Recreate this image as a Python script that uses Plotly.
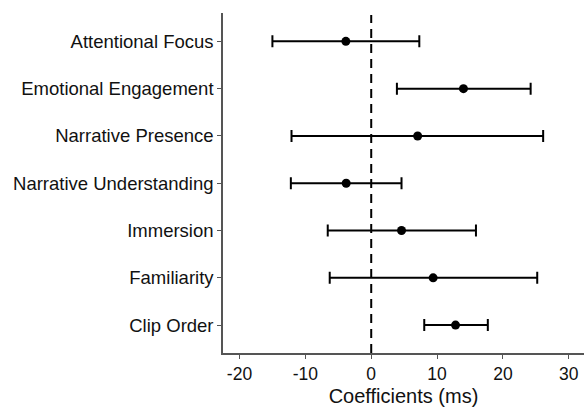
import plotly.graph_objects as go

categories = ["Attentional Focus", "Emotional Engagement", "Narrative Presence",
              "Narrative Understanding", "Immersion", "Familiarity", "Clip Order"]
estimates = [-3.85, 14.0, 7.05, -3.8, 4.6, 9.4, 12.8]
lower = [-15.0, 3.9, -12.1, -12.2, -6.6, -6.3, 8.05]
upper = [7.3, 24.2, 26.1, 4.6, 15.9, 25.2, 17.7]
x_ticks = [-20, -10, 0, 10, 20, 30]
x_ticklabels = ["-20", "-10", "0", "10", "20", "30"]

err_plus = [u - e for u, e in zip(upper, estimates)]
err_minus = [e - l for e, l in zip(estimates, lower)]

font_family = "Liberation Sans, Arial, sans-serif"

fig = go.Figure()
fig.add_trace(go.Scatter(
    x=estimates, y=categories, mode="markers",
    marker=dict(color="black", size=9),
    error_x=dict(type="data", symmetric=False, array=err_plus, arrayminus=err_minus,
                 color="black", thickness=2, width=6),
    showlegend=False,
))

fig.add_shape(type="line", xref="x", yref="paper", x0=0, x1=0, y0=0, y1=0.994,
              line=dict(color="black", width=2, dash="9px,6px"), layer="below")

fig.update_layout(
    width=584, height=409,
    margin=dict(l=223, r=0, t=13, b=56),
    plot_bgcolor="white", paper_bgcolor="white",
    font=dict(family=font_family, size=18, color="#111111"),
    xaxis=dict(
        range=[-22.5, 32.3], tickvals=x_ticks, ticktext=x_ticklabels,
        showgrid=False, zeroline=False,
        showline=True, linecolor="#555555", linewidth=1.5,
        ticks="outside", ticklen=4, tickcolor="#555555", tickwidth=1,
        tickfont=dict(size=17.5),
        title=dict(text="Coefficients (ms)", font=dict(size=20), standoff=6),
    ),
    yaxis=dict(
        categoryorder="array", categoryarray=categories,
        range=[6.59, -0.6],
        showgrid=False, zeroline=False,
        showline=True, linecolor="#555555", linewidth=1.5,
        ticks="outside", ticklen=4, tickcolor="#555555", tickwidth=1,
        tickfont=dict(size=18.5),
    ),
)

fig.write_html("out.html")
